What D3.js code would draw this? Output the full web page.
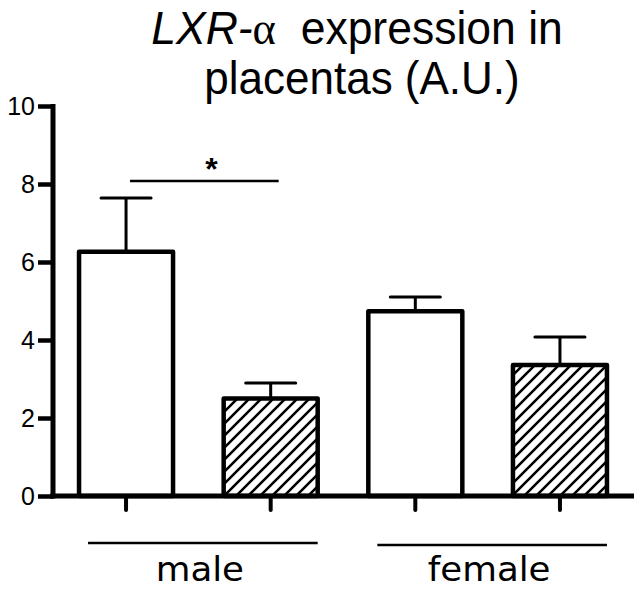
<!DOCTYPE html>
<html>
<head>
<meta charset="utf-8">
<script src="https://cdn.jsdelivr.net/npm/d3@7"></script>
<style>
  body { margin: 0; background: #fff; }
  svg { display: block; }
</style>
</head>
<body>
<script>
// data
const bars = ["male_ctrl", "male_trt", "female_ctrl", "female_trt"];
const means = [6.26, 2.5, 4.74, 3.36];
const errTops = [7.64, 2.9, 5.1, 4.08];
const hatched = [false, true, false, true];
const groups = ["male", "female"];
const yTicks = [0, 2, 4, 6, 8, 10];

const W = 640, H = 590;
const svg = d3.select("body").append("svg")
    .attr("width", W)
    .attr("height", H);

// hatch pattern
const defs = svg.append("defs");
defs.append("pattern")
    .attr("id", "hatch")
    .attr("patternUnits", "userSpaceOnUse")
    .attr("width", 12)
    .attr("height", 12)
    .append("path")
    .attr("d", "M-3,3 l6,-6 M0,12 l12,-12 M9,15 l6,-6")
    .attr("stroke", "#000")
    .attr("stroke-width", 2.6);

const x = d3.scaleBand()
    .domain(bars)
    .range([53, 633])
    .paddingInner(0.35)
    .paddingOuter(0.18);

const y = d3.scaleLinear()
    .domain([0, 10])
    .range([496, 106]);

// title (slightly stretched vertically like the source figure)
const t1 = svg.append("text")
    .attr("transform", "translate(357,44) scale(1,1.06)")
    .attr("text-anchor", "middle")
    .attr("font-family", "Liberation Sans, Arial, sans-serif")
    .attr("font-size", 44.5)
    .attr("fill", "#000");
t1.append("tspan").attr("font-style", "italic").text("LXR-");
t1.append("tspan").attr("font-family", "Liberation Serif, Times New Roman, serif").text("α");
t1.append("tspan").attr("xml:space", "preserve").style("white-space", "pre").text("  expression in");

svg.append("text")
    .attr("transform", "translate(362,94) scale(1,1.06)")
    .attr("text-anchor", "middle")
    .attr("font-family", "Liberation Sans, Arial, sans-serif")
    .attr("font-size", 44)
    .attr("fill", "#000")
    .text("placentas (A.U.)");

// bars
svg.append("g").selectAll("rect")
    .data(bars)
    .join("rect")
    .attr("x", d => x(d))
    .attr("y", (d, i) => y(means[i]))
    .attr("width", x.bandwidth())
    .attr("height", (d, i) => y(0) - y(means[i]))
    .attr("fill", (d, i) => hatched[i] ? "url(#hatch)" : "#fff")
    .attr("stroke", "#000")
    .attr("stroke-width", 4.5)
    .attr("stroke-linejoin", "round");

// error bars (upper only)
const eb = svg.append("g")
    .attr("stroke", "#000")
    .attr("stroke-width", 3);
bars.forEach((d, i) => {
    const cx = x(d) + x.bandwidth() / 2;
    eb.append("line")
        .attr("x1", cx).attr("x2", cx)
        .attr("y1", y(means[i])).attr("y2", y(errTops[i]));
    eb.append("line")
        .attr("x1", cx - 25).attr("x2", cx + 25)
        .attr("y1", y(errTops[i])).attr("y2", y(errTops[i]))
        .attr("stroke-linecap", "round");
});

// y axis
const yAxis = svg.append("g")
    .attr("transform", "translate(53,0)")
    .call(d3.axisLeft(y).tickValues(yTicks).tickSize(15).tickPadding(3).tickFormat(d3.format("d")));
yAxis.select(".domain").remove();
yAxis.selectAll(".tick line").attr("stroke-width", 4.5);
yAxis.selectAll(".tick text")
    .attr("font-family", "Liberation Sans, Arial, sans-serif")
    .attr("font-size", 25)
    .attr("fill", "#000");
svg.append("line")
    .attr("x1", 53).attr("x2", 53)
    .attr("y1", y(10) - 2).attr("y2", y(0) + 2.5)
    .attr("stroke", "#000")
    .attr("stroke-width", 5);

// x axis with ticks under each bar
svg.append("line")
    .attr("x1", 50).attr("x2", 634)
    .attr("y1", y(0)).attr("y2", y(0))
    .attr("stroke", "#000")
    .attr("stroke-width", 5);
svg.append("g").selectAll("line")
    .data(bars)
    .join("line")
    .attr("x1", d => x(d) + x.bandwidth() / 2)
    .attr("x2", d => x(d) + x.bandwidth() / 2)
    .attr("y1", y(0))
    .attr("y2", y(0) + 14)
    .attr("stroke", "#000")
    .attr("stroke-width", 4)
    .attr("stroke-linecap", "round");

// significance bracket
const b0 = x(bars[0]) + x.bandwidth() / 2, b1 = x(bars[1]) + x.bandwidth() / 2;
svg.append("line")
    .attr("x1", b0 + 4).attr("x2", b1 + 8)
    .attr("y1", 181).attr("y2", 181)
    .attr("stroke", "#000")
    .attr("stroke-width", 2.5);
svg.append("text")
    .attr("x", (b0 + b1) / 2 + 13)
    .attr("y", 180)
    .attr("text-anchor", "middle")
    .attr("font-family", "Liberation Sans, Arial, sans-serif")
    .attr("font-weight", "bold")
    .attr("font-size", 32)
    .text("*");

// group labels
groups.forEach((g, gi) => {
    const left = x(bars[gi * 2]) + 9;
    const right = x(bars[gi * 2 + 1]) + x.bandwidth();
    const mid = (left + right) / 2 - 3;
    svg.append("line")
        .attr("x1", left).attr("x2", right)
        .attr("y1", 543 + gi * 2).attr("y2", 543 + gi * 2)
        .attr("stroke", "#000")
        .attr("stroke-width", 2.5);
    svg.append("text")
        .attr("transform", `translate(${mid},581) scale(1.08,1)`)
        .attr("text-anchor", "middle")
        .attr("font-family", "DejaVu Sans, sans-serif")
        .attr("font-size", 33)
        .attr("fill", "#000")
        .text(g);
});
</script>
</body>
</html>
